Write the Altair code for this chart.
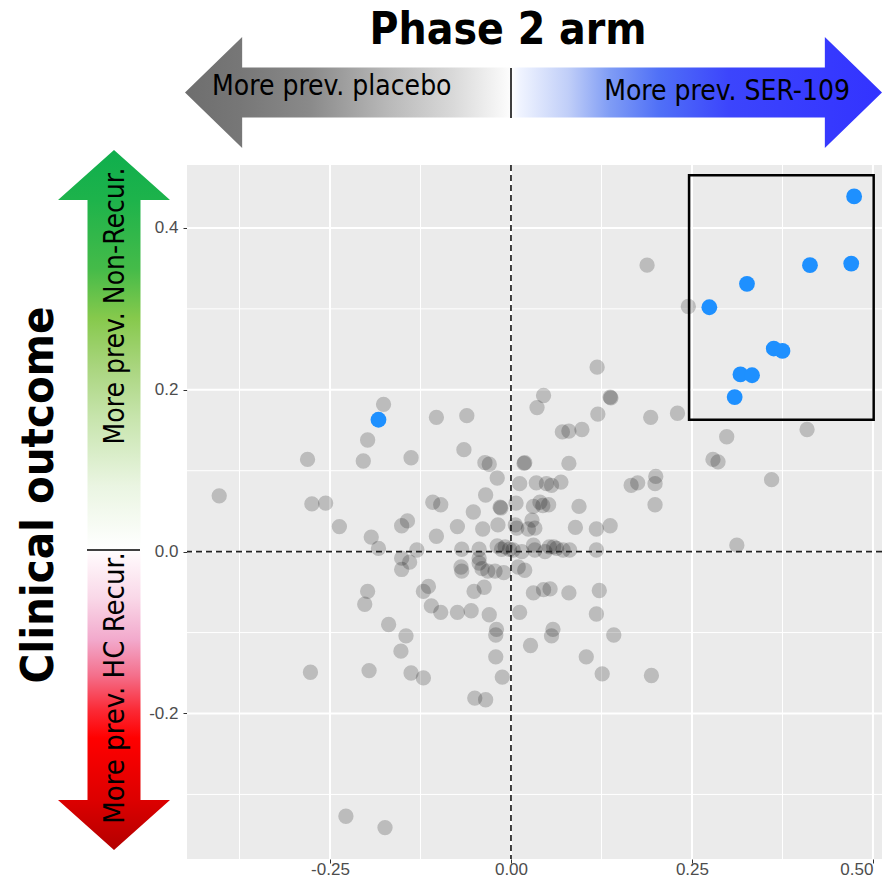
import altair as alt
import pandas as pd

# ---------------- data ----------------
grey_x = [-0.403, -0.281, -0.275, -0.256, -0.237, -0.228, -0.174, -0.277, -0.196, -0.176,
          -0.103, -0.061, -0.198, -0.204, -0.138, -0.065, -0.036, -0.030, -0.019, -0.035,
          -0.015, -0.108, -0.097, -0.052, -0.151, -0.143, -0.193, -0.183, -0.103, -0.074,
          -0.039, -0.018, -0.130, -0.151, -0.140, -0.151, -0.068, -0.044, -0.044, -0.044,
          -0.069, -0.068, -0.040, -0.032, -0.022, -0.010, -0.198, -0.202, -0.121, -0.114,
          -0.110, -0.097, -0.074, -0.055, -0.051, -0.037, -0.030, -0.169, -0.145, -0.152,
          -0.020, -0.021, -0.021, -0.012, -0.138, -0.121, -0.050, -0.035, -0.013, -0.008,
          -0.002, 0.003, 0.015, 0.010, 0.019, 0.031, 0.033, 0.047, 0.053, 0.059,
          0.063, 0.072, 0.081, 0.118, 0.031, 0.045, 0.054, 0.080, 0.122, 0.012,
          0.118, 0.058, 0.056, 0.142, 0.027, 0.104, 0.126, 0.194, 0.312, 0.006,
          0.008, 0.024, 0.029, 0.033, 0.089, 0.118, 0.137, 0.007, 0.031, 0.040,
          0.044, 0.052, 0.094, 0.199, 0.012, 0.035, 0.049, 0.056, 0.069, 0.166,
          0.175, 0.200, 0.199, 0.018, 0.019, 0.080, 0.045, 0.036, 0.137, 0.138,
          0.120, 0.119, 0.193, 0.230, 0.071, 0.080, 0.098, 0.188, 0.245, 0.409,
          0.298, 0.279, 0.286, 0.360, -0.019, -0.014]
grey_y = [0.069, 0.114, 0.059, 0.060, 0.031, -0.327, -0.341, -0.149, -0.147, 0.182,
          0.166, 0.168, 0.138, 0.112, 0.116, 0.126, 0.110, 0.108, 0.091, 0.070,
          0.055, 0.061, 0.058, 0.049, 0.032, 0.038, 0.018, 0.004, 0.019, 0.031,
          0.028, 0.033, 0.002, -0.008, -0.013, -0.022, 0.003, 0.003, -0.008, -0.014,
          -0.019, -0.024, -0.021, -0.024, -0.024, -0.026, -0.049, -0.065, -0.049, -0.043,
          -0.067, -0.075, -0.075, -0.073, -0.049, -0.044, -0.078, -0.090, -0.104, -0.123,
          -0.096, -0.103, -0.130, -0.155, -0.150, -0.156, -0.181, -0.183, 0.003, 0.006,
          0.003, 0.002, 0.000, -0.019, -0.023, 0.008, 0.002, 0.000, 0.006, 0.006,
          0.004, 0.002, 0.002, 0.002, -0.051, -0.047, -0.046, -0.051, -0.048, -0.075,
          -0.077, -0.096, -0.104, -0.103, -0.116, -0.130, -0.151, -0.153, 0.008, 0.033,
          0.029, 0.028, 0.039, 0.029, 0.030, 0.028, 0.032, 0.060, 0.056, 0.061,
          0.057, 0.058, 0.056, 0.058, 0.084, 0.085, 0.084, 0.082, 0.086, 0.082,
          0.085, 0.093, 0.084, 0.109, 0.110, 0.109, 0.193, 0.178, 0.191, 0.190,
          0.170, 0.228, 0.166, 0.171, 0.148, 0.149, 0.151, 0.354, 0.303, 0.151,
          0.142, 0.114, 0.111, 0.089, 0.007, 0.054]

blue_x = [0.474, 0.413, 0.470, 0.326, 0.274, 0.363, 0.375, 0.317, 0.333, 0.309, -0.183]
blue_y = [0.439, 0.354, 0.356, 0.331, 0.302, 0.251, 0.248, 0.219, 0.218, 0.191, 0.163]

x_ticks = [-0.25, 0.0, 0.25, 0.5]
y_ticks = [-0.2, 0.0, 0.2, 0.4]
x_minor = [-0.375, -0.125, 0.125, 0.375]
y_minor = [-0.3, -0.1, 0.1, 0.3]
box_x = [0.246]
box_x2 = [0.501]
box_y = [0.163]
box_y2 = [0.465]
x_domain = [-0.4475, 0.5125]
y_domain = [-0.3798, 0.4778]

title_top = "Phase 2 arm"
title_left = "Clinical outcome"
label_left = "More prev. placebo"
label_right = "More prev. SER-109"
label_up = "More prev. Non-Recur."
label_down = "More prev. HC Recur."

# ---------------- chart ----------------
W, H = 695, 694
NARROW = "DejaVu Sans Condensed, Liberation Sans Narrow, DejaVu Sans, sans-serif"
AXFONT = "Liberation Sans, Arial, sans-serif"

xs = alt.Scale(domain=x_domain, nice=False, zero=False)
ys = alt.Scale(domain=y_domain, nice=False, zero=False)

X_AX = alt.Axis(values=x_ticks, labelPadding=-2, grid=False, domain=False, title=None,
                labelFlush=12,
                labelExpr="replace(format(datum.value, '.2f'), '\u2212', '-')")
Y_AX = alt.Axis(values=y_ticks, labelPadding=5, grid=False, domain=False, title=None,
                labelExpr="replace(format(datum.value, '.1f'), '\u2212', '-')")

grey_df = pd.DataFrame({"x": grey_x, "y": grey_y})
blue_df = pd.DataFrame({"x": blue_x, "y": blue_y})
one = pd.DataFrame({"a": [0]})

minor_x = alt.Chart(pd.DataFrame({"x": x_minor})).mark_rule(color="white", strokeWidth=1).encode(
    x=alt.X("x:Q", scale=xs, axis=X_AX))
minor_y = alt.Chart(pd.DataFrame({"y": y_minor})).mark_rule(color="white", strokeWidth=1).encode(
    y=alt.Y("y:Q", scale=ys, axis=Y_AX))
major_x = alt.Chart(pd.DataFrame({"x": x_ticks})).mark_rule(color="white", strokeWidth=2).encode(
    x=alt.X("x:Q", scale=xs, axis=X_AX))
major_y = alt.Chart(pd.DataFrame({"y": y_ticks})).mark_rule(color="white", strokeWidth=2).encode(
    y=alt.Y("y:Q", scale=ys, axis=Y_AX))

grey = alt.Chart(grey_df).mark_circle(size=235, color="black", opacity=0.2).encode(
    x=alt.X("x:Q", scale=xs, axis=X_AX),
    y=alt.Y("y:Q", scale=ys, axis=Y_AX),
)
blue = alt.Chart(blue_df).mark_circle(size=250, color="#1E90FF", opacity=1).encode(
    x=alt.X("x:Q", scale=xs, axis=X_AX), y=alt.Y("y:Q", scale=ys, axis=Y_AX))

zero_x = alt.Chart(pd.DataFrame({"x": [0.0]})).mark_rule(color="#222222", strokeWidth=1.7, strokeDash=[6, 4]).encode(
    x=alt.X("x:Q", scale=xs, axis=X_AX))
zero_y = alt.Chart(pd.DataFrame({"y": [0.0]})).mark_rule(color="#222222", strokeWidth=1.7, strokeDash=[6, 4]).encode(
    y=alt.Y("y:Q", scale=ys, axis=Y_AX))

box = alt.Chart(pd.DataFrame({"x": box_x, "x2": box_x2, "y": box_y, "y2": box_y2})).mark_rect(
    fillOpacity=0, stroke="black", strokeWidth=2.5).encode(
    x=alt.X("x:Q", scale=xs, axis=X_AX), x2="x2:Q",
    y=alt.Y("y:Q", scale=ys, axis=Y_AX), y2="y2:Q")

# ---- decorative arrows (pixel positions relative to plot origin) ----
h_path = ("M -1 0 L -0.836 -0.1593 L -0.836 -0.0717 L 0.836 -0.0717 L 0.836 -0.1593 L 1 0 "
          "L 0.836 0.1593 L 0.836 0.0717 L -0.836 0.0717 L -0.836 0.1593 Z")
v_path = ("M 0 -1 L 0.16 -0.857 L 0.0757 -0.857 L 0.0757 0.857 L 0.16 0.857 L 0 1 "
          "L -0.16 0.857 L -0.0757 0.857 L -0.0757 -0.857 L -0.16 -0.857 Z")

h_stops = [(0.0, "#6e6e6e"), (0.08, "#777777"), (0.18, "#8a8a8a"), (0.29, "#b8b8b8"),
           (0.385, "#d9d9d9"), (0.468, "#fdfdfd"), (0.469, "#ffffff"), (0.48, "#f0f4ff"),
           (0.55, "#c0cef8"), (0.61, "#7f9cf5"), (0.68, "#5070f7"), (0.78, "#3c45fc"),
           (1.0, "#3333ff")]
v_stops = [(0.0, "#0fae4d"), (0.07, "#1db34b"), (0.17, "#45bb49"), (0.24, "#86c94c"),
           (0.31, "#a9d57e"), (0.38, "#c6e4ab"), (0.48, "#eaf5e2"), (0.57, "#ffffff"),
           (0.58, "#fff8fb"), (0.64, "#f9d8e8"), (0.70, "#f2a9cc"), (0.75, "#f4708c"),
           (0.80, "#fb2a36"), (0.84, "#ff0000"), (0.93, "#dc0000"), (1.0, "#b30000")]

h_grad = alt.LinearGradient(gradient="linear", x1=0, x2=1, y1=0, y2=0,
                            stops=[alt.GradientStop(offset=o, color=c) for o, c in h_stops])
v_grad = alt.LinearGradient(gradient="linear", x1=0, x2=0, y1=0, y2=1,
                            stops=[alt.GradientStop(offset=o, color=c) for o, c in v_stops])

h_arrow = alt.Chart(one).mark_point(shape=h_path, size=697 ** 2, filled=True, fill=h_grad,
                                    strokeWidth=0, opacity=1).encode(
    x=alt.value(346.5), y=alt.value(-72.5))
v_arrow = alt.Chart(one).mark_point(shape=v_path, size=700 ** 2, filled=True, fill=v_grad,
                                    strokeWidth=0, opacity=1).encode(
    x=alt.value(-73), y=alt.value(335))

h_div = alt.Chart(one).mark_rule(color="black", strokeWidth=1.5).encode(
    x=alt.value(324), y=alt.value(-97), y2=alt.value(-47))
v_div = alt.Chart(one).mark_rule(color="black", strokeWidth=1.5).encode(
    x=alt.value(-100), x2=alt.value(-47), y=alt.value(385))

t_top = alt.Chart(one).mark_text(text=title_top, font=NARROW, fontSize=44, fontWeight="bold",
                                 color="black", align="center", baseline="alphabetic").encode(
    x=alt.value(321), y=alt.value(-121))
t_left = alt.Chart(one).mark_text(text=title_left, font=NARROW, fontSize=45, fontWeight="bold",
                                  color="black", align="center", baseline="alphabetic", angle=270).encode(
    x=alt.value(-134), y=alt.value(330))
t_pl = alt.Chart(one).mark_text(text=label_left, font=NARROW, fontSize=28, color="black",
                                align="left", baseline="alphabetic").encode(
    x=alt.value(25), y=alt.value(-70))
t_ser = alt.Chart(one).mark_text(text=label_right, font=NARROW, fontSize=28, color="black",
                                 align="right", baseline="alphabetic").encode(
    x=alt.value(663), y=alt.value(-65))
t_up = alt.Chart(one).mark_text(text=label_up, font=NARROW, fontSize=28, color="black",
                                align="center", baseline="alphabetic", angle=270).encode(
    x=alt.value(-63), y=alt.value(141))
t_down = alt.Chart(one).mark_text(text=label_down, font=NARROW, fontSize=29, color="black",
                                  align="center", baseline="alphabetic", angle=270).encode(
    x=alt.value(-63), y=alt.value(523))

chart = alt.layer(
    minor_x, minor_y, major_x, major_y, grey, blue, zero_x, zero_y, box,
    h_arrow, v_arrow, h_div, v_div, t_top, t_left, t_pl, t_ser, t_up, t_down
).properties(
    width=W, height=H,
    autosize=alt.AutoSizeParams(type="none"),
    padding={"left": 179, "top": 157, "right": 0, "bottom": 18},
).configure_view(fill="#EBEBEB", stroke=None).configure_axis(
    labelFontSize=17, labelColor="#4d4d4d", labelFont=AXFONT,
    tickSize=4, tickColor="#333333", tickWidth=1,
)

chart.save("out.html", embed_options={"renderer": "svg", "actions": False})
